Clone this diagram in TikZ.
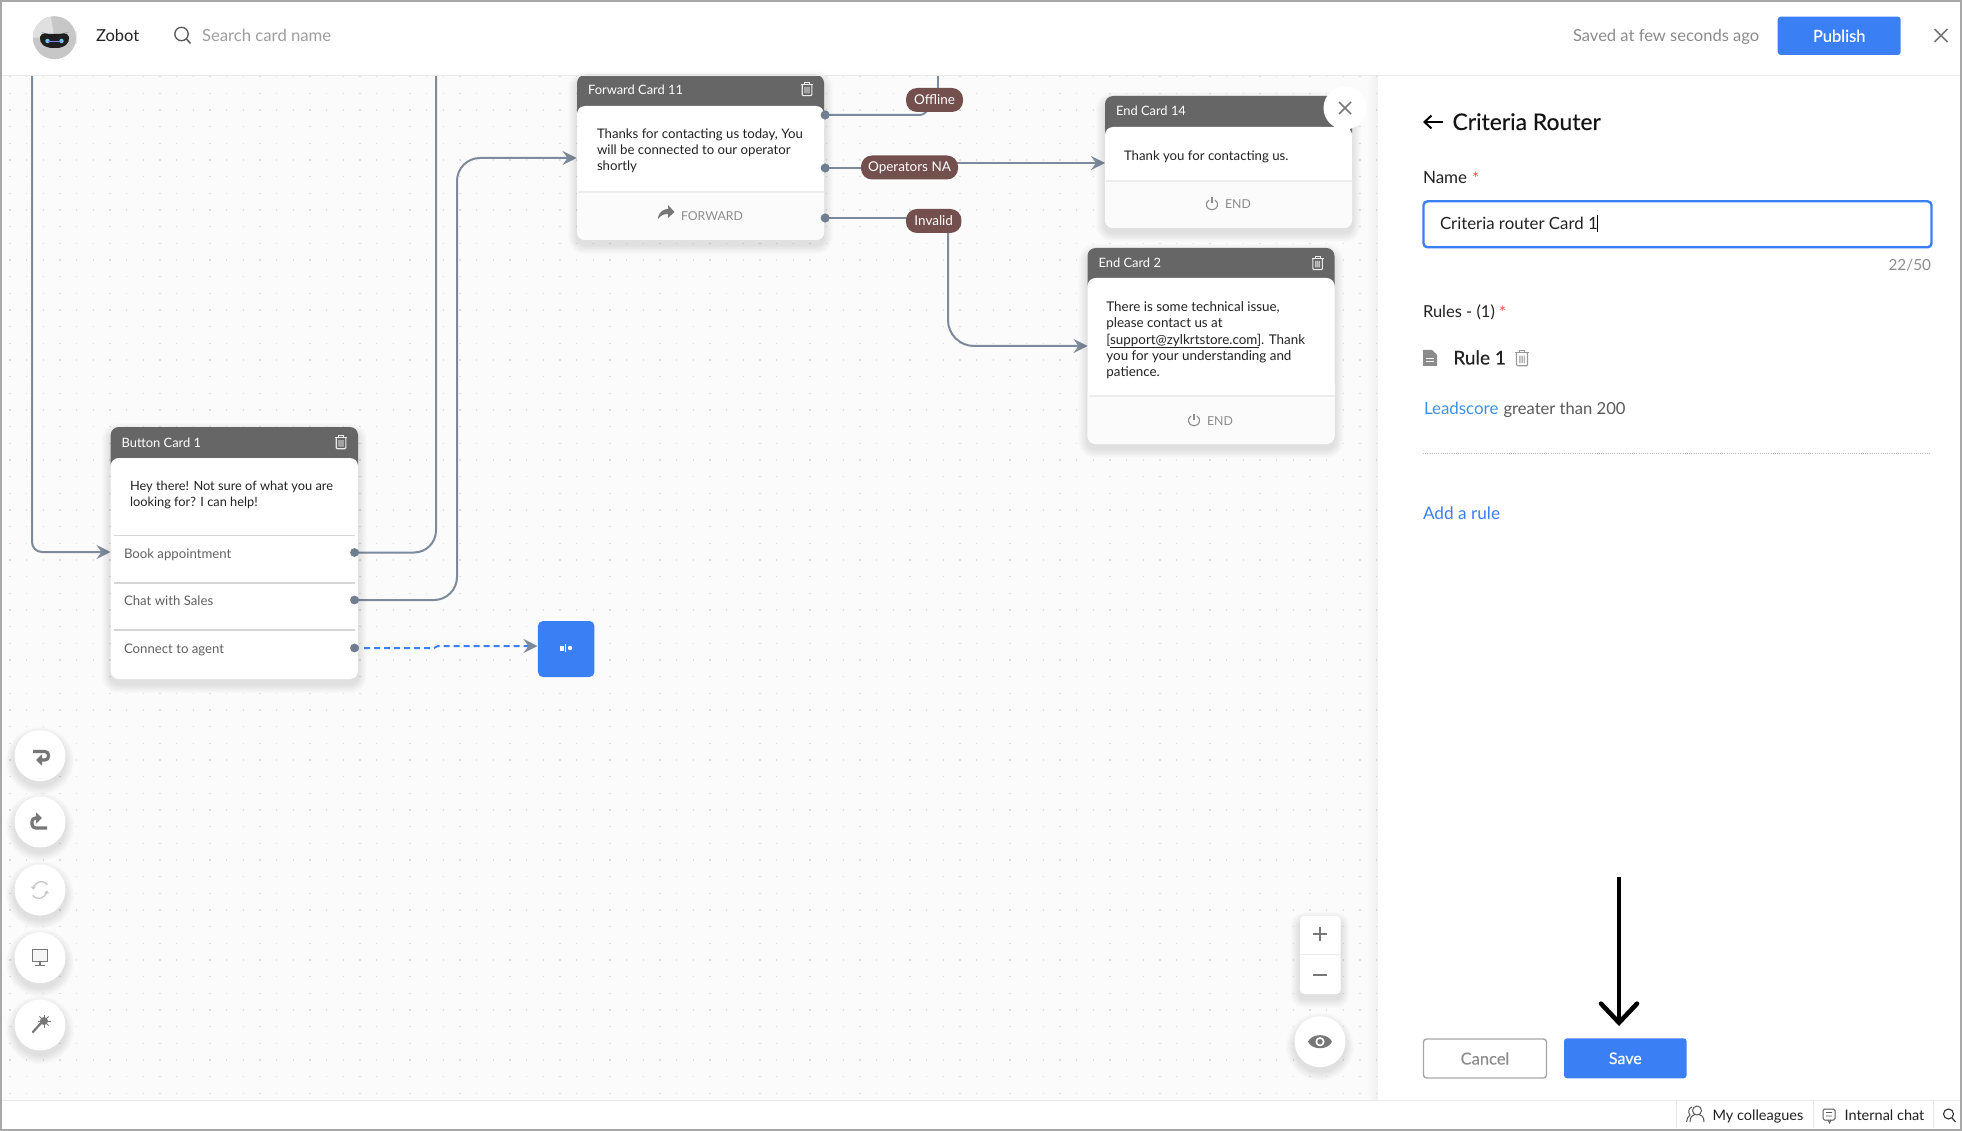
\documentclass[tikz,border=0pt]{standalone}
\usepackage{fontspec}
\setmainfont{Lato}
\newfontfamily\medf[FakeBold=0.25]{Lato}
\usetikzlibrary{arrows.meta,calc}
\definecolor{ublue}{HTML}{3B7FF5}
\definecolor{linkblue}{HTML}{3F90E0}
\definecolor{canvasbg}{HTML}{FBFBFB}
\definecolor{griddotc}{HTML}{DEDEDE}
\definecolor{headc}{HTML}{666666}
\definecolor{connc}{HTML}{7C8A9B}
\definecolor{dotc}{HTML}{6F7F91}
\definecolor{pillc}{HTML}{734F4D}
\definecolor{iconc}{HTML}{777777}
\definecolor{mutedc}{HTML}{8C8C8C}
\definecolor{inkc}{HTML}{222222}
\definecolor{sepc}{HTML}{EDEDED}
\definecolor{borderc}{HTML}{A8A8A8}
\definecolor{redc}{HTML}{EE4B3A}
\newcommand{\fs}[1]{\fontsize{#1}{#1}\selectfont}
\tikzset{
  txt/.style={inner sep=0,outer sep=0,anchor=base west,text=inkc},
  cardtitle/.style={txt,text=white,font=\fs{12.9}},
  cardtext/.style={inner sep=0,outer sep=0,anchor=north west,align=left,text=inkc,font=\fontsize{13.2}{16}\selectfont},
  footlabel/.style={txt,text=mutedc,font=\fs{12.3}},
  optlabel/.style={txt,text=black!62,font=\fs{13.2}},
  conn/.style={draw=connc,line width=2pt},
  tip/.style={-{Stealth[length=14pt,width=14pt,inset=5pt,color=connc]}},
  portdot/.style={circle,fill=dotc,minimum size=9pt,inner sep=0},
  pill/.style={rounded corners=11pt,fill=pillc,text=white,inner sep=0,minimum height=24pt,font=\fs{13.5}},
  griddot/.style={griddotc,line width=1.4pt,dash pattern=on 1.4pt off 15.267pt},
  toolbtn/.style={circle,fill=white,minimum size=51pt,inner sep=0},
  bluebtn/.style={rounded corners=3pt,fill=ublue,text=white,inner sep=0},
}
\newcommand{\softshadow}[5]{% x1 y1 x2 y2 radius
  \foreach \s in {1,...,9}{
    \fill[black,opacity=0.012,rounded corners={(#5+\s)*1pt}] ({#1-\s},{#2-\s+5}) rectangle ({#3+\s},{#4+\s+5});
  }}
\newcommand{\trashicon}[4]{% x y colour scale
  \begin{scope}[shift={(#1,#2)},scale=#4]
    \draw[#3,line width=1.1pt] (-6,-4.7) -- (6,-4.7);
    \draw[#3,line width=1pt] (-2.4,-4.7) -- (-2.4,-6.7) -- (2.4,-6.7) -- (2.4,-4.7);
    \draw[#3,line width=1.1pt,rounded corners=1pt] (-4.8,-4.7) -- (-4.8,6.7) -- (4.8,6.7) -- (4.8,-4.7);
    \fill[#3,opacity=.7] (-2.6,-2) rectangle (-1.3,4.5) (-0.65,-2) rectangle (0.65,4.5) (1.3,-2) rectangle (2.6,4.5);
  \end{scope}}
\newcommand{\powericon}[2]{% x y
  \begin{scope}[shift={(#1,#2)}]
    \draw[mutedc,line width=1.1pt] (-3,-4) .. controls (-7.5,-1.5) and (-6,5.8) .. (0,5.8) .. controls (6,5.8) and (7.5,-1.5) .. (3,-4);
    \draw[mutedc,line width=1.1pt] (0,-6.5) -- (0,-0.5);
  \end{scope}}
\newcommand{\card}[8]{% name x1 y1 x2 yh y2 ysep title
  \softshadow{#2}{#3}{#4}{#6}{8}
  \fill[headc,rounded corners=8pt] (#2,#3) rectangle (#4,#5+14);
  \node[fill=white,rounded corners=8pt,inner sep=0,minimum width={(#4-(#2))*1pt},minimum height={(#6-(#5))*1pt}] (#1) at ({(#2+#4)/2},{(#5+#6)/2}) {};
  \if\relax\detokenize{#7}\relax\else
    \fill[canvasbg,rounded corners=8pt] (#2,#7-10) rectangle (#4,#6);
    \fill[white] (#2,#7-12) rectangle (#4,#7);
    \draw[sepc,line width=1.2pt] (#2+1,#7) -- (#4,#7);
  \fi
  \node[cardtitle] (#1title) at ({#2+11},{(#3+#5)/2+4.5}) {#8};
}
\begin{document}
\begin{tikzpicture}[x=1pt,y=-1pt]
\useasboundingbox (0,0) rectangle (1962,1131);
% backgrounds
\fill[white] (0,0) rectangle (1962,1131);
\fill[canvasbg] (0,75) rectangle (1378,1100);
\foreach \j in {4,...,65}{
  \draw[griddot] (9.3,{10+16.667*\j}) -- (1378,{10+16.667*\j});
}
% ------- coordinates
\coordinate (top1) at (32,75);
\coordinate (top2) at (436,75);
\coordinate (bend3a) at (457,600);
\coordinate (bend3b) at (457,158);
\coordinate (fwdin) at (576.5,158);
\coordinate (bcin) at (110.5,552);
\coordinate (offtop) at (938,75);
\coordinate (offlow) at (917,115);
\coordinate (offend) at (930,108);
\coordinate (opout) at (950,163);
\coordinate (e14in) at (1105,163);
\coordinate (invout) at (948,230);
\coordinate (e2in) at (1087.5,346);
\coordinate (dashstart) at (364,648);
\coordinate (dashm1) at (434,648);
\coordinate (dashm2) at (438,646);
\coordinate (tilein) at (537.5,646);
% ports
\node[portdot] (fp1) at (825,115) {};
\node[portdot] (fp2) at (825,168) {};
\node[portdot] (fp3) at (825,218) {};
\node[portdot] (bp1) at (354.5,552.5) {};
\node[portdot] (bp2) at (354.5,600) {};
\node[portdot] (bp3) at (354.5,648) {};
% ------- connectors
\draw[conn,tip,rounded corners=10pt] (top1) |- (bcin);
\draw[conn,rounded corners=22pt] (bp1.center) -| (top2);
\draw[conn,tip,rounded corners=23pt] (bp2.center) -- (bend3a) -- (bend3b) -- (fwdin);
\draw[conn] (offtop) -- (938,95);
\draw[conn] (fp1.center) -- (offlow) .. controls (923,115) .. (offend);
\draw[conn] (fp2.center) -- (880,168);
\draw[conn,tip] (opout) -- (e14in);
\draw[conn] (fp3.center) -- (915,218);
\draw[conn,tip,rounded corners=26pt] (invout) |- (e2in);
\draw[ublue,line width=2pt,dash pattern=on 6pt off 4pt,-{Stealth[length=14pt,width=14pt,inset=5pt,color=connc]}] (dashstart) -- (dashm1) -- (dashm2) -- (tilein);
% ------- cards
\card{fwd}{577}{75}{824}{106}{240}{192}{Forward Card 11}
\trashicon{807}{89}{white!92!black}{1}
\node[cardtext] (fwdtext) at (597,129) {Thanks for contacting us today, You\\will be connected to our operator\\shortly};
\fill[iconc] (658,217) .. controls (660,211) and (664,209) .. (668,209) -- (668,205) -- (674.5,212) -- (668,218) -- (668,214) .. controls (664,214) and (661,215) .. (658,219) -- cycle;
\node[footlabel] (fwdfoot) at (681,220.5) {FORWARD};
\card{endf}{1105}{96}{1352}{127}{228}{181}{End Card 14}
\node[cardtext] (endftext) at (1124,151) {Thank you for contacting us.};
\powericon{1212}{204}
\node[footlabel] (endffoot) at (1225,209) {END};
\card{endt}{1087.5}{248}{1334.5}{278}{444}{396}{End Card 2}
\trashicon{1317.6}{263}{white!92!black}{1}
\node[cardtext,font=\fontsize{13.4}{16.1}\selectfont] (endttext) at (1106.4,302) {There is some technical issue,\\please contact us at\\{[}support@zylkrtstore.com{]}. Thank\\you for your understanding and\\patience.};
\draw[inkc,line width=0.7pt] (1110,347.5) -- (1259,347.5);
\powericon{1194}{420}
\node[footlabel] (endtfoot) at (1207,425) {END};
\card{btn}{110.7}{427}{358}{458}{679}{}{Button Card 1}
\trashicon{341}{442}{white!92!black}{1}
\node[cardtext,font=\fontsize{12.8}{16}\selectfont] (btntext) at (130,481) {Hey there! Not sure of what you are\\looking for? I can help!};
\draw[sepc!90!black,line width=1.1pt] (114,535.7) -- (355,535.7);
\draw[sepc!90!black,line width=1.6pt] (114,582.7) -- (355,582.7);
\draw[sepc!90!black,line width=1.1pt] (114,630) -- (355,630);
\node[optlabel] (opt1) at (124,558) {Book appointment};
\node[optlabel] (opt2) at (124,605.5) {Chat with Sales};
\node[optlabel] (opt3) at (124,653.5) {Connect to agent};
% ports on top of cards
\foreach \p in {fp1,fp2,fp3,bp1,bp2,bp3}{\fill[dotc] (\p) circle (4.4);}
% pills
\node[pill,minimum width=57pt] (poff) at (934.5,100) {Offline};
\node[pill,minimum width=97pt] (pop) at (909.5,167.5) {Operators NA};
\node[pill,minimum width=55.5pt] (pinv) at (933.7,221) {Invalid};
% close circle over End Card 14
\node[circle,fill=white,minimum size=43pt,inner sep=0] (closec) at (1345,108) {};
\draw[iconc,line width=1.7pt] (1339,102) -- (1351,114) (1339,114) -- (1351,102);
% blue tile
\node[fill=ublue,rounded corners=5pt,inner sep=0,minimum width=56.5pt,minimum height=56pt] (tile) at (566.2,649) {};
\fill[white] (559.5,645.5) rectangle (563.5,650.5);
\fill[white] (565.4,644) rectangle (566.2,652);
\fill[white] (570,648) circle (2.2);
% ------- tool buttons
\foreach \n/\y in {t1/755.7,t2/822,t3/890,t4/957.7,t5/1025}{
  \softshadow{15}{\y-25}{65}{\y+25}{25}
  \node[toolbtn] (\n) at (40,\y) {};
}
\draw[iconc,line width=3.2pt,-{Triangle[length=6pt,width=11pt]},rounded corners=3.6pt] (33,751.5) -- (48.5,751.5) -- (48.5,760) -- (36,760);
\draw[iconc,line width=3.2pt,-{Triangle[length=6pt,width=11pt]},rounded corners=3.6pt] (47,828) -- (32,828) -- (32,818) -- (42,818);
\draw[black!22,line width=1.3pt,-{Triangle[length=3pt,width=5pt]}] (47.5,884.5) arc[start angle=-40,end angle=-180,radius=8] ;
\draw[black!22,line width=1.3pt,-{Triangle[length=3pt,width=5pt]}] (32.5,895.5) arc[start angle=140,end angle=0,radius=8];
\fill[iconc] (32,949) rectangle (48,962);
\fill[white!96!black] (33.3,950.3) rectangle (46.7,960.7);
\draw[iconc,line width=1.3pt] (40,962) -- (40,965) (35,965.5) -- (45,965.5);
\draw[iconc,line width=2.2pt,line cap=round] (33,1032) -- (41,1023);
\fill[iconc] (44,1021) circle (4);
\foreach \a in {0,45,...,315}{\draw[iconc,line width=1pt] (44,1021) -- ++(\a:6.5);}
% zoom controls
\softshadow{1300}{916}{1340.6}{994}{5}
\node[fill=white,rounded corners=4pt,inner sep=0,minimum width=40.6pt,minimum height=78pt] (zoombox) at (1320.3,955) {};
\draw[sepc,line width=1.2pt] (1300,954.7) -- (1340.6,954.7);
\draw[iconc,line width=1.6pt] (1313,934) -- (1327,934) (1320,927) -- (1320,941);
\draw[iconc,line width=1.6pt] (1313,975) -- (1327,975);
\softshadow{1295}{1016.7}{1345}{1066.7}{25}
\node[toolbtn] (eyebtn) at (1320,1041.7) {};
\fill[iconc] (1308,1041.7) .. controls (1312,1033) and (1328,1033) .. (1332,1041.7) .. controls (1328,1050.4) and (1312,1050.4) .. (1308,1041.7) -- cycle;
\fill[white] (1320,1041.7) circle (4.6);
\fill[iconc] (1320,1041.7) circle (2.7);
% ------- right panel
\foreach \s in {1,...,5}{\fill[black,opacity=0.008] ({1378-\s*2},75) rectangle (1378,1100);}
\fill[white] (1378,75) rectangle (1962,1100);
\draw[black,line width=2pt,-{Straight Barb[length=7pt,width=13pt]}] (1443,122) -- (1423,122);
\node[txt,font=\medf\fs{22.9},text=black!92] (ptitle) at (1452.5,130) {Criteria Router};
\node[txt,font=\fs{17}] (lname) at (1423,184) {Name};
\node[txt,font=\fs{16.5},text=redc] (lnamestar) at (1472,185) {*};
\node[draw=ublue,line width=2.4pt,rounded corners=4pt,fill=white,minimum width=508pt,minimum height=46pt,inner sep=0] (inputbox) at (1677.5,224.3) {};
\node[txt,font=\fs{16.8}] (inputtext) at (1440,230) {Criteria router Card 1};
\draw[black,line width=1pt] (1597.5,215) -- (1597.5,232);
\node[txt,anchor=base east,font=\fs{15.3},text=mutedc] (count) at (1931,271) {22/50};
\node[txt,font=\fs{16.5}] (lrules) at (1423,317.5) {Rules - (1)};
\node[txt,font=\fs{16.5},text=redc] (lrulesstar) at (1499,319) {*};
\fill[iconc!85] (1423,350) -- (1432,350) -- (1437,355) -- (1437,366) -- (1423,366) -- cycle;
\draw[white,line width=0.7pt] (1426,358) -- (1434,358) (1426,361) -- (1434,361);
\node[txt,font=\medf\fs{19}] (rule) at (1453.4,364.5) {Rule 1};
\trashicon{1522}{358}{black!40}{1.15}
\node[txt,font=\fs{16.9},text=linkblue] (lead) at (1424,414.5) {Leadscore};
\node[txt,font=\fs{16.6},text=black!65] (greater) at (1503.5,414.5) {greater than 200};
\draw[black!28,line width=1pt,dash pattern=on 1pt off 1.2pt] (1423,453) -- (1931,453);
\node[txt,font=\fs{17.2},text=ublue] (addrule) at (1423,519.5) {Add a rule};
% save arrow
\coordinate (sa1) at (1619,877);
\coordinate (sa2) at (1619,1026);
\draw[black,line width=4.6pt,-{Straight Barb[length=19pt,width=36pt,line cap=round,line width=4.6pt]}] (sa1) -- (sa2);
% buttons
\node[draw=black!35,line width=1.4pt,rounded corners=3pt,minimum width=123pt,minimum height=39pt,inner sep=0,text=mutedc,font=\medf\fs{16.5}] (cancel) at (1485,1058.5) {Cancel};
\node[bluebtn,minimum width=122.6pt,minimum height=40pt,font=\medf\fs{16}] (save) at (1625.3,1058.3) {Save};
% ------- header
\fill[black!8] (0,75) rectangle (1962,75.8);
\fill[black!8] (32.5,31) rectangle (76.5,44);
\fill[black!22] (54.5,37.7) circle (21.5);
\fill[black!12] (33,37.7) arc[start angle=180,end angle=260,radius=21.5] -- (54.5,37.7) -- cycle;
\fill[black!88,rounded corners=5pt] (41,32) -- (46,34) -- (63,34) -- (68,32) -- (70,42) -- (62,48) -- (47,48) -- (39,42) -- cycle;
\fill[cyan!60!white] (47.5,41) circle (2.2);
\fill[cyan!60!white] (61.5,41) circle (2.2);
\draw[blue!50!white,line width=0.6pt] (47.5,41) -- (61.5,41);
\node[txt,font=\fs{16.5}] (zobot) at (96,41.5) {Zobot};
\draw[black!65,line width=1.3pt] (181.5,34) circle (6.7);
\draw[black!65,line width=1.5pt] (186.5,39) -- (190.5,43.5);
\node[txt,font=\fs{16.7},text=black!38] (search) at (202,41.5) {Search card name};
\node[txt,font=\fs{16.55},text=mutedc] (saved) at (1573,41.5) {Saved at few seconds ago};
\node[bluebtn,minimum width=123pt,minimum height=38.3pt,font=\medf\fs{16.5}] (publish) at (1839.2,35.8) {Publish};
\draw[iconc,line width=1.7pt] (1934.5,29) -- (1947.5,42) (1934.5,42) -- (1947.5,29);
% ------- bottom bar
\fill[white] (0,1100) rectangle (1962,1131);
\fill[black!8] (0,1099.5) rectangle (1962,1101);
\foreach \x in {1676,1813,1933}{\draw[black!9,line width=1pt] (\x,1100) -- (\x,1128);}
\draw[black!65,line width=1pt] (1697,1110.5) circle (4.5);
\draw[black!65,line width=1pt] (1690,1122) .. controls (1690,1116) and (1693,1115) .. (1695,1114.5);
\draw[black!65,line width=1pt] (1704,1122) .. controls (1704,1116) and (1701,1115) .. (1699,1114.5);
\draw[black!65,line width=1pt] (1692,1107) .. controls (1688,1108) and (1688,1113) .. (1690,1115);
\draw[black!65,line width=1pt] (1690,1115) .. controls (1688,1116) and (1687,1119) .. (1686.5,1122);
\node[txt,font=\fs{14.5}] (colleagues) at (1712.6,1120.5) {My colleagues};
\draw[black!65,line width=1pt,rounded corners=1.5pt] (1823,1109) rectangle (1835,1120);
\draw[black!65,line width=0.9pt] (1826,1112.5) -- (1832,1112.5) (1826,1116) -- (1832,1116) (1828,1120) -- (1829.5,1123) -- (1831,1120);
\node[txt,font=\fs{14.5}] (chat) at (1844.6,1120.5) {Internal chat};
\draw[black!80,line width=1.1pt] (1948.5,1114) circle (5);
\draw[black!80,line width=1.2pt] (1952,1118) -- (1955.5,1122);
% outer frame
\draw[borderc,line width=2.4pt] (1.2,1.2) rectangle (1960.8,1129.8);
\end{tikzpicture}
\end{document}
